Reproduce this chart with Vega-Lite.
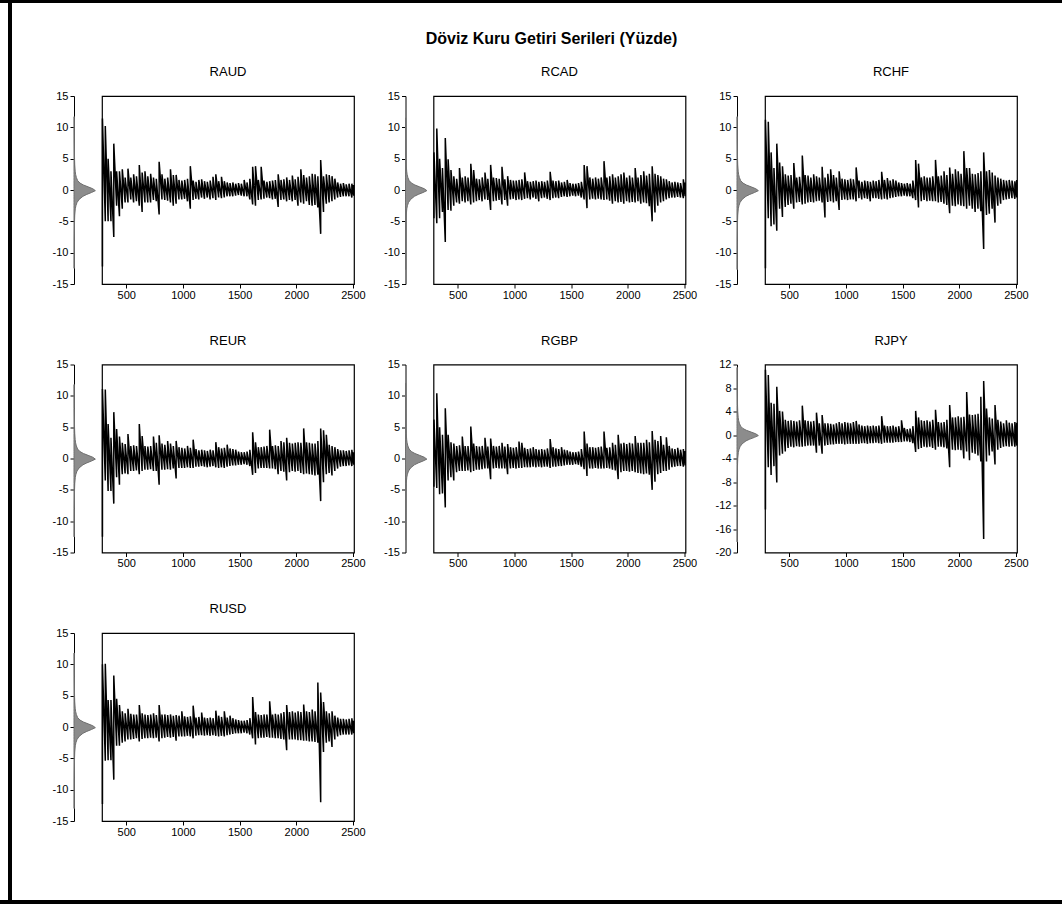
{
"$schema": "https://vega.github.io/schema/vega-lite/v6.json",
"padding": 0,
"background": "white",
"config": {
  "font": "Liberation Sans",
  "view": {"stroke": null},
  "axis": {"labelFont": "Liberation Sans", "labelFontSize": 11, "labelColor": "#000", "tickColor": "#000", "domainColor": "#000", "grid": false, "tickWidth": 1, "domainWidth": 1, "title": null},
  "title": {"font": "Liberation Sans", "color": "#000"},
  "line": {"color": "#000", "strokeWidth": 1.5, "strokeJoin": "bevel", "clip": true},
  "area": {"fill": "#8c8c8c", "stroke": "#6f6f6f", "strokeWidth": 1}
},
"datasets": {
"ts": [
{"s":"RAUD","t":290,"lo":-12.2,"hi":11.4},{"s":"RAUD","t":315,"lo":-5,"hi":10.2},{"s":"RAUD","t":340,"lo":-5,"hi":5},{"s":"RAUD","t":365,"lo":-5,"hi":3},{"s":"RAUD","t":390,"lo":-7.5,"hi":7.4},{"s":"RAUD","t":415,"lo":-2.5,"hi":3},{"s":"RAUD","t":440,"lo":-4.2,"hi":3},{"s":"RAUD","t":465,"lo":-3,"hi":3.3},{"s":"RAUD","t":490,"lo":-2,"hi":2},{"s":"RAUD","t":515,"lo":-2,"hi":3.4},{"s":"RAUD","t":540,"lo":-1.5,"hi":2},{"s":"RAUD","t":565,"lo":-2,"hi":2.5},{"s":"RAUD","t":590,"lo":-1.8,"hi":2.2},{"s":"RAUD","t":615,"lo":-2.5,"hi":4},{"s":"RAUD","t":640,"lo":-3.5,"hi":2.8},{"s":"RAUD","t":665,"lo":-2,"hi":3},{"s":"RAUD","t":690,"lo":-2,"hi":2.2},{"s":"RAUD","t":715,"lo":-2,"hi":2.6},{"s":"RAUD","t":740,"lo":-1.6,"hi":2},{"s":"RAUD","t":765,"lo":-1.8,"hi":1.8},{"s":"RAUD","t":790,"lo":-3.9,"hi":4.5},{"s":"RAUD","t":815,"lo":-1.5,"hi":2.5},{"s":"RAUD","t":840,"lo":-1.6,"hi":1.8},{"s":"RAUD","t":865,"lo":-1.7,"hi":2},{"s":"RAUD","t":890,"lo":-2,"hi":3.3},{"s":"RAUD","t":915,"lo":-2.5,"hi":2.4},{"s":"RAUD","t":940,"lo":-2.2,"hi":2.4},{"s":"RAUD","t":965,"lo":-1.5,"hi":1.6},{"s":"RAUD","t":990,"lo":-1.5,"hi":1.5},{"s":"RAUD","t":1015,"lo":-1.4,"hi":1.6},{"s":"RAUD","t":1040,"lo":-1.8,"hi":1.8},{"s":"RAUD","t":1065,"lo":-3,"hi":3.8},{"s":"RAUD","t":1090,"lo":-1.6,"hi":1.5},{"s":"RAUD","t":1115,"lo":-1.4,"hi":1.3},{"s":"RAUD","t":1140,"lo":-1.5,"hi":1.6},{"s":"RAUD","t":1165,"lo":-1.2,"hi":1.7},{"s":"RAUD","t":1190,"lo":-1.4,"hi":1.4},{"s":"RAUD","t":1215,"lo":-1.2,"hi":1.3},{"s":"RAUD","t":1240,"lo":-1.5,"hi":1.5},{"s":"RAUD","t":1265,"lo":-1.3,"hi":2.1},{"s":"RAUD","t":1290,"lo":-1.6,"hi":2.5},{"s":"RAUD","t":1315,"lo":-1.2,"hi":1.4},{"s":"RAUD","t":1340,"lo":-1.3,"hi":2.1},{"s":"RAUD","t":1365,"lo":-1.2,"hi":1.4},{"s":"RAUD","t":1390,"lo":-1,"hi":1.2},{"s":"RAUD","t":1415,"lo":-1,"hi":1.1},{"s":"RAUD","t":1440,"lo":-1,"hi":1.2},{"s":"RAUD","t":1465,"lo":-0.9,"hi":1},{"s":"RAUD","t":1490,"lo":-0.8,"hi":1.1},{"s":"RAUD","t":1515,"lo":-0.9,"hi":1},{"s":"RAUD","t":1540,"lo":-1,"hi":1.6},{"s":"RAUD","t":1565,"lo":-1,"hi":1.2},{"s":"RAUD","t":1590,"lo":-1.5,"hi":1.8},{"s":"RAUD","t":1615,"lo":-2.3,"hi":3.7},{"s":"RAUD","t":1640,"lo":-2.5,"hi":3.8},{"s":"RAUD","t":1665,"lo":-1.6,"hi":1.6},{"s":"RAUD","t":1690,"lo":-1.5,"hi":3.7},{"s":"RAUD","t":1715,"lo":-1.4,"hi":1.5},{"s":"RAUD","t":1740,"lo":-1.2,"hi":1.3},{"s":"RAUD","t":1765,"lo":-1.3,"hi":1.4},{"s":"RAUD","t":1790,"lo":-1.5,"hi":1.5},{"s":"RAUD","t":1815,"lo":-1.4,"hi":1.6},{"s":"RAUD","t":1840,"lo":-2.7,"hi":2.5},{"s":"RAUD","t":1865,"lo":-1.6,"hi":1.6},{"s":"RAUD","t":1890,"lo":-1.5,"hi":1.7},{"s":"RAUD","t":1915,"lo":-1.8,"hi":2},{"s":"RAUD","t":1940,"lo":-1.6,"hi":1.6},{"s":"RAUD","t":1965,"lo":-1.8,"hi":2.3},{"s":"RAUD","t":1990,"lo":-1.6,"hi":1.7},{"s":"RAUD","t":2015,"lo":-2.5,"hi":2.1},{"s":"RAUD","t":2040,"lo":-2,"hi":3.3},{"s":"RAUD","t":2065,"lo":-2.2,"hi":2.4},{"s":"RAUD","t":2090,"lo":-1.8,"hi":2},{"s":"RAUD","t":2115,"lo":-2.4,"hi":2.2},{"s":"RAUD","t":2140,"lo":-2.5,"hi":2.6},{"s":"RAUD","t":2165,"lo":-2.4,"hi":2.5},{"s":"RAUD","t":2190,"lo":-2.8,"hi":2.2},{"s":"RAUD","t":2215,"lo":-7,"hi":4.8},{"s":"RAUD","t":2240,"lo":-3.5,"hi":2.2},{"s":"RAUD","t":2265,"lo":-2.2,"hi":2.5},{"s":"RAUD","t":2290,"lo":-2,"hi":2.4},{"s":"RAUD","t":2315,"lo":-1.8,"hi":2.2},{"s":"RAUD","t":2340,"lo":-1.5,"hi":1.8},{"s":"RAUD","t":2365,"lo":-1.2,"hi":1.2},{"s":"RAUD","t":2390,"lo":-1.1,"hi":1},{"s":"RAUD","t":2415,"lo":-1,"hi":1.1},{"s":"RAUD","t":2440,"lo":-1,"hi":0.9},{"s":"RAUD","t":2465,"lo":-1,"hi":1},{"s":"RAUD","t":2490,"lo":-1.2,"hi":1},{"s":"RAUD","t":2506,"lo":-0.9,"hi":0.8},
{"s":"RCAD","t":290,"lo":-4.5,"hi":6},{"s":"RCAD","t":315,"lo":-5.3,"hi":9.8},{"s":"RCAD","t":340,"lo":-4.5,"hi":5},{"s":"RCAD","t":365,"lo":-3.5,"hi":3.5},{"s":"RCAD","t":390,"lo":-8.3,"hi":8.3},{"s":"RCAD","t":415,"lo":-3.2,"hi":4.9},{"s":"RCAD","t":440,"lo":-3.3,"hi":3.2},{"s":"RCAD","t":465,"lo":-2.5,"hi":2.2},{"s":"RCAD","t":490,"lo":-2,"hi":1.8},{"s":"RCAD","t":515,"lo":-2.2,"hi":3.5},{"s":"RCAD","t":540,"lo":-1.8,"hi":2},{"s":"RCAD","t":565,"lo":-2,"hi":2.2},{"s":"RCAD","t":590,"lo":-1.8,"hi":2},{"s":"RCAD","t":615,"lo":-2.3,"hi":4.2},{"s":"RCAD","t":640,"lo":-2,"hi":3.2},{"s":"RCAD","t":665,"lo":-1.8,"hi":1.8},{"s":"RCAD","t":690,"lo":-1.6,"hi":1.7},{"s":"RCAD","t":715,"lo":-1.8,"hi":2},{"s":"RCAD","t":740,"lo":-1.5,"hi":2.8},{"s":"RCAD","t":765,"lo":-1.6,"hi":1.8},{"s":"RCAD","t":790,"lo":-3.2,"hi":4},{"s":"RCAD","t":815,"lo":-1.8,"hi":2},{"s":"RCAD","t":840,"lo":-1.7,"hi":1.9},{"s":"RCAD","t":865,"lo":-1.6,"hi":1.8},{"s":"RCAD","t":890,"lo":-2.3,"hi":3.7},{"s":"RCAD","t":915,"lo":-1.6,"hi":1.7},{"s":"RCAD","t":940,"lo":-2.5,"hi":2.2},{"s":"RCAD","t":965,"lo":-1.5,"hi":1.6},{"s":"RCAD","t":990,"lo":-1.4,"hi":1.5},{"s":"RCAD","t":1015,"lo":-1.6,"hi":1.5},{"s":"RCAD","t":1040,"lo":-1.5,"hi":1.6},{"s":"RCAD","t":1065,"lo":-1.6,"hi":1.7},{"s":"RCAD","t":1090,"lo":-1.4,"hi":2.8},{"s":"RCAD","t":1115,"lo":-1.3,"hi":1.4},{"s":"RCAD","t":1140,"lo":-1.5,"hi":1.3},{"s":"RCAD","t":1165,"lo":-1.2,"hi":1.4},{"s":"RCAD","t":1190,"lo":-1.4,"hi":1.5},{"s":"RCAD","t":1215,"lo":-1.8,"hi":1.3},{"s":"RCAD","t":1240,"lo":-1.3,"hi":1.4},{"s":"RCAD","t":1265,"lo":-1.2,"hi":1.3},{"s":"RCAD","t":1290,"lo":-1.4,"hi":1.5},{"s":"RCAD","t":1315,"lo":-1.6,"hi":2.9},{"s":"RCAD","t":1340,"lo":-1.3,"hi":1.5},{"s":"RCAD","t":1365,"lo":-1.2,"hi":1.4},{"s":"RCAD","t":1390,"lo":-1.3,"hi":1.5},{"s":"RCAD","t":1415,"lo":-1.1,"hi":1.2},{"s":"RCAD","t":1440,"lo":-1,"hi":1.3},{"s":"RCAD","t":1465,"lo":-1.1,"hi":1.6},{"s":"RCAD","t":1490,"lo":-1,"hi":1.1},{"s":"RCAD","t":1515,"lo":-0.9,"hi":1},{"s":"RCAD","t":1540,"lo":-1,"hi":1},{"s":"RCAD","t":1565,"lo":-0.9,"hi":1.1},{"s":"RCAD","t":1590,"lo":-1.2,"hi":1.3},{"s":"RCAD","t":1615,"lo":-1.5,"hi":4},{"s":"RCAD","t":1640,"lo":-2.9,"hi":3.8},{"s":"RCAD","t":1665,"lo":-1.5,"hi":2},{"s":"RCAD","t":1690,"lo":-1.4,"hi":1.8},{"s":"RCAD","t":1715,"lo":-1.5,"hi":2},{"s":"RCAD","t":1740,"lo":-1.4,"hi":1.8},{"s":"RCAD","t":1765,"lo":-1.5,"hi":2},{"s":"RCAD","t":1790,"lo":-1.6,"hi":4.6},{"s":"RCAD","t":1815,"lo":-1.5,"hi":2},{"s":"RCAD","t":1840,"lo":-1.7,"hi":2.2},{"s":"RCAD","t":1865,"lo":-2.2,"hi":2.5},{"s":"RCAD","t":1890,"lo":-1.8,"hi":2},{"s":"RCAD","t":1915,"lo":-2,"hi":2.2},{"s":"RCAD","t":1940,"lo":-1.9,"hi":2.5},{"s":"RCAD","t":1965,"lo":-2.2,"hi":2.8},{"s":"RCAD","t":1990,"lo":-1.8,"hi":2},{"s":"RCAD","t":2015,"lo":-2,"hi":2.3},{"s":"RCAD","t":2040,"lo":-1.9,"hi":2},{"s":"RCAD","t":2065,"lo":-2,"hi":3.5},{"s":"RCAD","t":2090,"lo":-1.8,"hi":2},{"s":"RCAD","t":2115,"lo":-2.2,"hi":2.4},{"s":"RCAD","t":2140,"lo":-2,"hi":3},{"s":"RCAD","t":2165,"lo":-2.1,"hi":2.3},{"s":"RCAD","t":2190,"lo":-2.6,"hi":2.6},{"s":"RCAD","t":2215,"lo":-5,"hi":3.8},{"s":"RCAD","t":2240,"lo":-3.6,"hi":2.6},{"s":"RCAD","t":2265,"lo":-2.5,"hi":2.4},{"s":"RCAD","t":2290,"lo":-2,"hi":2.2},{"s":"RCAD","t":2315,"lo":-1.8,"hi":1.8},{"s":"RCAD","t":2340,"lo":-1.5,"hi":1.7},{"s":"RCAD","t":2365,"lo":-1.3,"hi":1.4},{"s":"RCAD","t":2390,"lo":-1.2,"hi":1.2},{"s":"RCAD","t":2415,"lo":-1.2,"hi":1.3},{"s":"RCAD","t":2440,"lo":-1.1,"hi":1.2},{"s":"RCAD","t":2465,"lo":-1.2,"hi":1.1},{"s":"RCAD","t":2490,"lo":-1.3,"hi":1.7},{"s":"RCAD","t":2506,"lo":-1,"hi":1.2},
{"s":"RCHF","t":290,"lo":-12.5,"hi":11.2},{"s":"RCHF","t":315,"lo":-4.5,"hi":10.9},{"s":"RCHF","t":340,"lo":-5.8,"hi":6},{"s":"RCHF","t":365,"lo":-5.5,"hi":3.5},{"s":"RCHF","t":390,"lo":-6.5,"hi":7.4},{"s":"RCHF","t":415,"lo":-3,"hi":4.4},{"s":"RCHF","t":440,"lo":-4.3,"hi":3.8},{"s":"RCHF","t":465,"lo":-2.7,"hi":2.5},{"s":"RCHF","t":490,"lo":-2.4,"hi":2.3},{"s":"RCHF","t":515,"lo":-2.2,"hi":2.4},{"s":"RCHF","t":540,"lo":-3,"hi":4.3},{"s":"RCHF","t":565,"lo":-2,"hi":2},{"s":"RCHF","t":590,"lo":-1.9,"hi":2.1},{"s":"RCHF","t":615,"lo":-2.3,"hi":5.5},{"s":"RCHF","t":640,"lo":-2.2,"hi":2.4},{"s":"RCHF","t":665,"lo":-2,"hi":2.3},{"s":"RCHF","t":690,"lo":-1.9,"hi":2},{"s":"RCHF","t":715,"lo":-2,"hi":2.5},{"s":"RCHF","t":740,"lo":-1.8,"hi":2.2},{"s":"RCHF","t":765,"lo":-1.7,"hi":2},{"s":"RCHF","t":790,"lo":-2,"hi":3.7},{"s":"RCHF","t":815,"lo":-4.4,"hi":2},{"s":"RCHF","t":840,"lo":-1.9,"hi":2.6},{"s":"RCHF","t":865,"lo":-1.8,"hi":3.3},{"s":"RCHF","t":890,"lo":-2,"hi":2.4},{"s":"RCHF","t":915,"lo":-1.8,"hi":2},{"s":"RCHF","t":940,"lo":-3.2,"hi":3},{"s":"RCHF","t":965,"lo":-1.6,"hi":1.8},{"s":"RCHF","t":990,"lo":-1.5,"hi":1.7},{"s":"RCHF","t":1015,"lo":-1.6,"hi":1.6},{"s":"RCHF","t":1040,"lo":-1.5,"hi":1.8},{"s":"RCHF","t":1065,"lo":-1.5,"hi":1.7},{"s":"RCHF","t":1090,"lo":-1.8,"hi":3.6},{"s":"RCHF","t":1115,"lo":-1.3,"hi":1.5},{"s":"RCHF","t":1140,"lo":-1.5,"hi":1.3},{"s":"RCHF","t":1165,"lo":-1.3,"hi":1.5},{"s":"RCHF","t":1190,"lo":-1.4,"hi":1.4},{"s":"RCHF","t":1215,"lo":-1.8,"hi":1.3},{"s":"RCHF","t":1240,"lo":-1.3,"hi":1.5},{"s":"RCHF","t":1265,"lo":-1.3,"hi":1.4},{"s":"RCHF","t":1290,"lo":-1.4,"hi":1.6},{"s":"RCHF","t":1315,"lo":-1.5,"hi":2.9},{"s":"RCHF","t":1340,"lo":-1.4,"hi":1.6},{"s":"RCHF","t":1365,"lo":-1.5,"hi":1.9},{"s":"RCHF","t":1390,"lo":-1.3,"hi":1.5},{"s":"RCHF","t":1415,"lo":-1.2,"hi":1.7},{"s":"RCHF","t":1440,"lo":-1.1,"hi":1.5},{"s":"RCHF","t":1465,"lo":-1,"hi":1.2},{"s":"RCHF","t":1490,"lo":-1,"hi":1.1},{"s":"RCHF","t":1515,"lo":-0.9,"hi":1},{"s":"RCHF","t":1540,"lo":-1,"hi":1.1},{"s":"RCHF","t":1565,"lo":-1,"hi":1},{"s":"RCHF","t":1590,"lo":-1.3,"hi":1.5},{"s":"RCHF","t":1615,"lo":-1.6,"hi":4.8},{"s":"RCHF","t":1640,"lo":-2.8,"hi":4.2},{"s":"RCHF","t":1665,"lo":-1.8,"hi":2},{"s":"RCHF","t":1690,"lo":-1.6,"hi":2.2},{"s":"RCHF","t":1715,"lo":-1.8,"hi":2},{"s":"RCHF","t":1740,"lo":-1.7,"hi":2},{"s":"RCHF","t":1765,"lo":-1.8,"hi":2.2},{"s":"RCHF","t":1790,"lo":-1.8,"hi":4.8},{"s":"RCHF","t":1815,"lo":-2,"hi":2.2},{"s":"RCHF","t":1840,"lo":-1.9,"hi":2.3},{"s":"RCHF","t":1865,"lo":-2.2,"hi":3},{"s":"RCHF","t":1890,"lo":-2.4,"hi":2.4},{"s":"RCHF","t":1915,"lo":-3.7,"hi":3.6},{"s":"RCHF","t":1940,"lo":-2.5,"hi":2.6},{"s":"RCHF","t":1965,"lo":-2.6,"hi":3.3},{"s":"RCHF","t":1990,"lo":-2.3,"hi":3},{"s":"RCHF","t":2015,"lo":-2.5,"hi":2.6},{"s":"RCHF","t":2040,"lo":-2.6,"hi":6.2},{"s":"RCHF","t":2065,"lo":-3,"hi":3.5},{"s":"RCHF","t":2090,"lo":-2.5,"hi":3.5},{"s":"RCHF","t":2115,"lo":-3,"hi":2.6},{"s":"RCHF","t":2140,"lo":-3.5,"hi":2.5},{"s":"RCHF","t":2165,"lo":-3,"hi":2.7},{"s":"RCHF","t":2190,"lo":-3.4,"hi":3},{"s":"RCHF","t":2215,"lo":-9.4,"hi":6},{"s":"RCHF","t":2240,"lo":-4,"hi":3},{"s":"RCHF","t":2265,"lo":-3.8,"hi":3.2},{"s":"RCHF","t":2290,"lo":-3,"hi":2.8},{"s":"RCHF","t":2315,"lo":-5.2,"hi":2.3},{"s":"RCHF","t":2340,"lo":-2.5,"hi":2},{"s":"RCHF","t":2365,"lo":-2.2,"hi":1.8},{"s":"RCHF","t":2390,"lo":-1.6,"hi":1.6},{"s":"RCHF","t":2415,"lo":-1.5,"hi":1.5},{"s":"RCHF","t":2440,"lo":-1.4,"hi":1.6},{"s":"RCHF","t":2465,"lo":-1.3,"hi":1.5},{"s":"RCHF","t":2490,"lo":-1.4,"hi":1.4},{"s":"RCHF","t":2506,"lo":-1.2,"hi":1.6},
{"s":"REUR","t":290,"lo":-12.5,"hi":11.1},{"s":"REUR","t":315,"lo":-3.5,"hi":11},{"s":"REUR","t":340,"lo":-5.2,"hi":5.5},{"s":"REUR","t":365,"lo":-5.2,"hi":3.3},{"s":"REUR","t":390,"lo":-7.2,"hi":7.4},{"s":"REUR","t":415,"lo":-3,"hi":4.7},{"s":"REUR","t":440,"lo":-4.2,"hi":3.5},{"s":"REUR","t":465,"lo":-2.5,"hi":2.5},{"s":"REUR","t":490,"lo":-2.4,"hi":2.3},{"s":"REUR","t":515,"lo":-2.5,"hi":3.9},{"s":"REUR","t":540,"lo":-2,"hi":2},{"s":"REUR","t":565,"lo":-2,"hi":2.1},{"s":"REUR","t":590,"lo":-1.9,"hi":2},{"s":"REUR","t":615,"lo":-2.5,"hi":5.5},{"s":"REUR","t":640,"lo":-2,"hi":3.6},{"s":"REUR","t":665,"lo":-1.8,"hi":2},{"s":"REUR","t":690,"lo":-1.8,"hi":1.9},{"s":"REUR","t":715,"lo":-1.7,"hi":2},{"s":"REUR","t":740,"lo":-2,"hi":3.5},{"s":"REUR","t":765,"lo":-2,"hi":2.5},{"s":"REUR","t":790,"lo":-4.2,"hi":3.7},{"s":"REUR","t":815,"lo":-1.8,"hi":2.4},{"s":"REUR","t":840,"lo":-1.8,"hi":2.2},{"s":"REUR","t":865,"lo":-1.7,"hi":2.8},{"s":"REUR","t":890,"lo":-1.8,"hi":2.4},{"s":"REUR","t":915,"lo":-1.6,"hi":2},{"s":"REUR","t":940,"lo":-3.2,"hi":2.8},{"s":"REUR","t":965,"lo":-1.5,"hi":1.8},{"s":"REUR","t":990,"lo":-1.5,"hi":1.7},{"s":"REUR","t":1015,"lo":-1.5,"hi":1.6},{"s":"REUR","t":1040,"lo":-1.4,"hi":2},{"s":"REUR","t":1065,"lo":-1.5,"hi":1.7},{"s":"REUR","t":1090,"lo":-1.5,"hi":3},{"s":"REUR","t":1115,"lo":-1.3,"hi":1.5},{"s":"REUR","t":1140,"lo":-1.3,"hi":1.3},{"s":"REUR","t":1165,"lo":-1.2,"hi":1.4},{"s":"REUR","t":1190,"lo":-1.3,"hi":1.3},{"s":"REUR","t":1215,"lo":-1.4,"hi":1.2},{"s":"REUR","t":1240,"lo":-1.3,"hi":1.4},{"s":"REUR","t":1265,"lo":-1.2,"hi":1.3},{"s":"REUR","t":1290,"lo":-1.4,"hi":2.6},{"s":"REUR","t":1315,"lo":-1.5,"hi":1.8},{"s":"REUR","t":1340,"lo":-1.4,"hi":1.6},{"s":"REUR","t":1365,"lo":-1.5,"hi":1.7},{"s":"REUR","t":1390,"lo":-1.3,"hi":2.2},{"s":"REUR","t":1415,"lo":-1.2,"hi":1.6},{"s":"REUR","t":1440,"lo":-1.1,"hi":1.5},{"s":"REUR","t":1465,"lo":-1.1,"hi":1.4},{"s":"REUR","t":1490,"lo":-1,"hi":1.1},{"s":"REUR","t":1515,"lo":-1,"hi":1},{"s":"REUR","t":1540,"lo":-0.9,"hi":1},{"s":"REUR","t":1565,"lo":-1,"hi":1.1},{"s":"REUR","t":1590,"lo":-1.2,"hi":1.4},{"s":"REUR","t":1615,"lo":-2.6,"hi":4.2},{"s":"REUR","t":1640,"lo":-2.3,"hi":2.6},{"s":"REUR","t":1665,"lo":-1.6,"hi":1.8},{"s":"REUR","t":1690,"lo":-1.5,"hi":1.8},{"s":"REUR","t":1715,"lo":-1.5,"hi":1.9},{"s":"REUR","t":1740,"lo":-1.5,"hi":2},{"s":"REUR","t":1765,"lo":-1.6,"hi":4.6},{"s":"REUR","t":1790,"lo":-1.6,"hi":2},{"s":"REUR","t":1815,"lo":-1.7,"hi":2.1},{"s":"REUR","t":1840,"lo":-2.5,"hi":2},{"s":"REUR","t":1865,"lo":-2,"hi":2.8},{"s":"REUR","t":1890,"lo":-2.1,"hi":2.6},{"s":"REUR","t":1915,"lo":-3.5,"hi":3.3},{"s":"REUR","t":1940,"lo":-2.2,"hi":2.5},{"s":"REUR","t":1965,"lo":-2,"hi":2.4},{"s":"REUR","t":1990,"lo":-2.1,"hi":2.5},{"s":"REUR","t":2015,"lo":-2,"hi":2.6},{"s":"REUR","t":2040,"lo":-2.3,"hi":2.5},{"s":"REUR","t":2065,"lo":-2.5,"hi":4.8},{"s":"REUR","t":2090,"lo":-2.4,"hi":2.6},{"s":"REUR","t":2115,"lo":-2.5,"hi":2.5},{"s":"REUR","t":2140,"lo":-2.6,"hi":2.4},{"s":"REUR","t":2165,"lo":-2.7,"hi":2.4},{"s":"REUR","t":2190,"lo":-2.6,"hi":2.8},{"s":"REUR","t":2215,"lo":-6.8,"hi":4.8},{"s":"REUR","t":2240,"lo":-3.8,"hi":4.5},{"s":"REUR","t":2265,"lo":-2.5,"hi":3.8},{"s":"REUR","t":2290,"lo":-2.3,"hi":2.2},{"s":"REUR","t":2315,"lo":-2.7,"hi":2},{"s":"REUR","t":2340,"lo":-2,"hi":1.8},{"s":"REUR","t":2365,"lo":-1.6,"hi":1.5},{"s":"REUR","t":2390,"lo":-1.3,"hi":1.3},{"s":"REUR","t":2415,"lo":-1.2,"hi":1.3},{"s":"REUR","t":2440,"lo":-1.2,"hi":1.2},{"s":"REUR","t":2465,"lo":-1.1,"hi":1.3},{"s":"REUR","t":2490,"lo":-1.2,"hi":1.4},{"s":"REUR","t":2506,"lo":-1,"hi":1},
{"s":"RGBP","t":290,"lo":-4.5,"hi":6.2},{"s":"RGBP","t":315,"lo":-4.7,"hi":10.4},{"s":"RGBP","t":340,"lo":-5.7,"hi":5},{"s":"RGBP","t":365,"lo":-5.6,"hi":3.8},{"s":"RGBP","t":390,"lo":-7.8,"hi":8},{"s":"RGBP","t":415,"lo":-3.5,"hi":3.8},{"s":"RGBP","t":440,"lo":-3,"hi":2.6},{"s":"RGBP","t":465,"lo":-3.5,"hi":2.4},{"s":"RGBP","t":490,"lo":-2.2,"hi":2},{"s":"RGBP","t":515,"lo":-2,"hi":2.1},{"s":"RGBP","t":540,"lo":-2,"hi":3.5},{"s":"RGBP","t":565,"lo":-2,"hi":2},{"s":"RGBP","t":590,"lo":-1.9,"hi":2},{"s":"RGBP","t":615,"lo":-2.2,"hi":5.1},{"s":"RGBP","t":640,"lo":-2,"hi":2.4},{"s":"RGBP","t":665,"lo":-1.8,"hi":2},{"s":"RGBP","t":690,"lo":-1.8,"hi":1.9},{"s":"RGBP","t":715,"lo":-1.7,"hi":2},{"s":"RGBP","t":740,"lo":-1.6,"hi":3.3},{"s":"RGBP","t":765,"lo":-1.6,"hi":1.9},{"s":"RGBP","t":790,"lo":-3.3,"hi":3.2},{"s":"RGBP","t":815,"lo":-1.6,"hi":2},{"s":"RGBP","t":840,"lo":-1.5,"hi":1.9},{"s":"RGBP","t":865,"lo":-1.6,"hi":2},{"s":"RGBP","t":890,"lo":-1.6,"hi":2.5},{"s":"RGBP","t":915,"lo":-1.6,"hi":1.9},{"s":"RGBP","t":940,"lo":-2.5,"hi":2.3},{"s":"RGBP","t":965,"lo":-1.6,"hi":1.8},{"s":"RGBP","t":990,"lo":-1.5,"hi":1.7},{"s":"RGBP","t":1015,"lo":-1.6,"hi":1.8},{"s":"RGBP","t":1040,"lo":-1.5,"hi":2.7},{"s":"RGBP","t":1065,"lo":-1.5,"hi":2.5},{"s":"RGBP","t":1090,"lo":-1.4,"hi":1.7},{"s":"RGBP","t":1115,"lo":-1.4,"hi":1.5},{"s":"RGBP","t":1140,"lo":-1.4,"hi":1.6},{"s":"RGBP","t":1165,"lo":-1.3,"hi":1.8},{"s":"RGBP","t":1190,"lo":-1.4,"hi":1.5},{"s":"RGBP","t":1215,"lo":-1.3,"hi":1.4},{"s":"RGBP","t":1240,"lo":-1.4,"hi":1.5},{"s":"RGBP","t":1265,"lo":-1.3,"hi":1.4},{"s":"RGBP","t":1290,"lo":-1.3,"hi":1.6},{"s":"RGBP","t":1315,"lo":-1.5,"hi":3.1},{"s":"RGBP","t":1340,"lo":-1.3,"hi":1.8},{"s":"RGBP","t":1365,"lo":-1.3,"hi":1.6},{"s":"RGBP","t":1390,"lo":-1.2,"hi":1.5},{"s":"RGBP","t":1415,"lo":-1.2,"hi":1.8},{"s":"RGBP","t":1440,"lo":-1.1,"hi":1.4},{"s":"RGBP","t":1465,"lo":-1,"hi":1.3},{"s":"RGBP","t":1490,"lo":-1,"hi":1.1},{"s":"RGBP","t":1515,"lo":-1,"hi":1},{"s":"RGBP","t":1540,"lo":-0.9,"hi":1},{"s":"RGBP","t":1565,"lo":-1,"hi":1.1},{"s":"RGBP","t":1590,"lo":-1.3,"hi":1.5},{"s":"RGBP","t":1615,"lo":-1.7,"hi":4.3},{"s":"RGBP","t":1640,"lo":-2.8,"hi":2.4},{"s":"RGBP","t":1665,"lo":-1.6,"hi":1.8},{"s":"RGBP","t":1690,"lo":-1.6,"hi":1.8},{"s":"RGBP","t":1715,"lo":-1.5,"hi":1.7},{"s":"RGBP","t":1740,"lo":-1.6,"hi":1.8},{"s":"RGBP","t":1765,"lo":-1.6,"hi":1.9},{"s":"RGBP","t":1790,"lo":-1.6,"hi":4.3},{"s":"RGBP","t":1815,"lo":-1.5,"hi":1.7},{"s":"RGBP","t":1840,"lo":-1.6,"hi":1.8},{"s":"RGBP","t":1865,"lo":-1.8,"hi":2.5},{"s":"RGBP","t":1890,"lo":-1.9,"hi":2.2},{"s":"RGBP","t":1915,"lo":-3.3,"hi":3.8},{"s":"RGBP","t":1940,"lo":-2.2,"hi":2.4},{"s":"RGBP","t":1965,"lo":-2,"hi":2.5},{"s":"RGBP","t":1990,"lo":-2,"hi":2.3},{"s":"RGBP","t":2015,"lo":-2.1,"hi":2.5},{"s":"RGBP","t":2040,"lo":-2,"hi":2.4},{"s":"RGBP","t":2065,"lo":-2.2,"hi":3.6},{"s":"RGBP","t":2090,"lo":-2.3,"hi":2.5},{"s":"RGBP","t":2115,"lo":-2.4,"hi":2.5},{"s":"RGBP","t":2140,"lo":-2.5,"hi":2.5},{"s":"RGBP","t":2165,"lo":-2.4,"hi":3},{"s":"RGBP","t":2190,"lo":-2.6,"hi":2.6},{"s":"RGBP","t":2215,"lo":-5,"hi":4.4},{"s":"RGBP","t":2240,"lo":-3.7,"hi":3},{"s":"RGBP","t":2265,"lo":-2.5,"hi":2.8},{"s":"RGBP","t":2290,"lo":-2.3,"hi":3.6},{"s":"RGBP","t":2315,"lo":-2,"hi":2.2},{"s":"RGBP","t":2340,"lo":-2,"hi":3.4},{"s":"RGBP","t":2365,"lo":-1.8,"hi":2},{"s":"RGBP","t":2390,"lo":-1.4,"hi":1.6},{"s":"RGBP","t":2415,"lo":-1.3,"hi":1.5},{"s":"RGBP","t":2440,"lo":-1.2,"hi":1.7},{"s":"RGBP","t":2465,"lo":-1.2,"hi":1.4},{"s":"RGBP","t":2490,"lo":-1.3,"hi":1.5},{"s":"RGBP","t":2506,"lo":-1.1,"hi":1.2},
{"s":"RJPY","t":290,"lo":-12.7,"hi":11.1},{"s":"RJPY","t":315,"lo":-5.5,"hi":10.2},{"s":"RJPY","t":340,"lo":-6.8,"hi":5.5},{"s":"RJPY","t":365,"lo":-5.3,"hi":5.3},{"s":"RJPY","t":390,"lo":-8.1,"hi":8.2},{"s":"RJPY","t":415,"lo":-3.5,"hi":4.1},{"s":"RJPY","t":440,"lo":-3.2,"hi":4},{"s":"RJPY","t":465,"lo":-2.8,"hi":2.6},{"s":"RJPY","t":490,"lo":-2.2,"hi":2.4},{"s":"RJPY","t":515,"lo":-2,"hi":2.5},{"s":"RJPY","t":540,"lo":-2.1,"hi":2.4},{"s":"RJPY","t":565,"lo":-1.9,"hi":2.3},{"s":"RJPY","t":590,"lo":-2,"hi":2.5},{"s":"RJPY","t":615,"lo":-2,"hi":5},{"s":"RJPY","t":640,"lo":-1.9,"hi":2.5},{"s":"RJPY","t":665,"lo":-1.8,"hi":2.4},{"s":"RJPY","t":690,"lo":-1.8,"hi":2.3},{"s":"RJPY","t":715,"lo":-1.8,"hi":2.4},{"s":"RJPY","t":740,"lo":-3,"hi":3.8},{"s":"RJPY","t":765,"lo":-1.8,"hi":2},{"s":"RJPY","t":790,"lo":-3.2,"hi":3.4},{"s":"RJPY","t":815,"lo":-1.8,"hi":2},{"s":"RJPY","t":840,"lo":-1.7,"hi":2},{"s":"RJPY","t":865,"lo":-1.6,"hi":1.9},{"s":"RJPY","t":890,"lo":-1.6,"hi":1.8},{"s":"RJPY","t":915,"lo":-1.5,"hi":2},{"s":"RJPY","t":940,"lo":-1.5,"hi":2.2},{"s":"RJPY","t":965,"lo":-1.5,"hi":2},{"s":"RJPY","t":990,"lo":-1.6,"hi":2.2},{"s":"RJPY","t":1015,"lo":-1.5,"hi":2.1},{"s":"RJPY","t":1040,"lo":-1.5,"hi":2},{"s":"RJPY","t":1065,"lo":-1.5,"hi":2.2},{"s":"RJPY","t":1090,"lo":-1.5,"hi":2.4},{"s":"RJPY","t":1115,"lo":-1.5,"hi":1.8},{"s":"RJPY","t":1140,"lo":-1.4,"hi":1.6},{"s":"RJPY","t":1165,"lo":-1.4,"hi":1.5},{"s":"RJPY","t":1190,"lo":-1.5,"hi":1.6},{"s":"RJPY","t":1215,"lo":-1.4,"hi":1.5},{"s":"RJPY","t":1240,"lo":-1.4,"hi":1.6},{"s":"RJPY","t":1265,"lo":-1.3,"hi":1.5},{"s":"RJPY","t":1290,"lo":-1.4,"hi":1.6},{"s":"RJPY","t":1315,"lo":-1.5,"hi":3.2},{"s":"RJPY","t":1340,"lo":-1.3,"hi":1.6},{"s":"RJPY","t":1365,"lo":-1.3,"hi":1.5},{"s":"RJPY","t":1390,"lo":-1.3,"hi":1.5},{"s":"RJPY","t":1415,"lo":-1.3,"hi":1.6},{"s":"RJPY","t":1440,"lo":-1.2,"hi":1.4},{"s":"RJPY","t":1465,"lo":-1.2,"hi":1.5},{"s":"RJPY","t":1490,"lo":-1.2,"hi":2.5},{"s":"RJPY","t":1515,"lo":-1.1,"hi":1.2},{"s":"RJPY","t":1540,"lo":-1.1,"hi":1},{"s":"RJPY","t":1565,"lo":-1.2,"hi":1.1},{"s":"RJPY","t":1590,"lo":-1.4,"hi":1.5},{"s":"RJPY","t":1615,"lo":-2.9,"hi":4.1},{"s":"RJPY","t":1640,"lo":-2.4,"hi":3},{"s":"RJPY","t":1665,"lo":-2.2,"hi":2.5},{"s":"RJPY","t":1690,"lo":-2,"hi":2.4},{"s":"RJPY","t":1715,"lo":-2.1,"hi":2.5},{"s":"RJPY","t":1740,"lo":-2,"hi":2.3},{"s":"RJPY","t":1765,"lo":-2.2,"hi":2.6},{"s":"RJPY","t":1790,"lo":-2.5,"hi":4.3},{"s":"RJPY","t":1815,"lo":-2,"hi":2.2},{"s":"RJPY","t":1840,"lo":-2,"hi":2.1},{"s":"RJPY","t":1865,"lo":-2.1,"hi":2.2},{"s":"RJPY","t":1890,"lo":-2.3,"hi":2.6},{"s":"RJPY","t":1915,"lo":-5.5,"hi":5.1},{"s":"RJPY","t":1940,"lo":-2.5,"hi":3},{"s":"RJPY","t":1965,"lo":-2.6,"hi":3},{"s":"RJPY","t":1990,"lo":-2.5,"hi":3.2},{"s":"RJPY","t":2015,"lo":-2.6,"hi":3},{"s":"RJPY","t":2040,"lo":-4,"hi":3.1},{"s":"RJPY","t":2065,"lo":-2.8,"hi":7.3},{"s":"RJPY","t":2090,"lo":-4.3,"hi":3.5},{"s":"RJPY","t":2115,"lo":-3,"hi":3.4},{"s":"RJPY","t":2140,"lo":-3.2,"hi":3.5},{"s":"RJPY","t":2165,"lo":-3.5,"hi":3.6},{"s":"RJPY","t":2190,"lo":-4.5,"hi":6.5},{"s":"RJPY","t":2215,"lo":-17.7,"hi":9.2},{"s":"RJPY","t":2240,"lo":-4.5,"hi":4.5},{"s":"RJPY","t":2265,"lo":-3.5,"hi":3},{"s":"RJPY","t":2290,"lo":-2.8,"hi":2.8},{"s":"RJPY","t":2315,"lo":-5,"hi":5.1},{"s":"RJPY","t":2340,"lo":-2.5,"hi":2.6},{"s":"RJPY","t":2365,"lo":-2.2,"hi":2.3},{"s":"RJPY","t":2390,"lo":-2,"hi":2},{"s":"RJPY","t":2415,"lo":-1.9,"hi":2.5},{"s":"RJPY","t":2440,"lo":-2,"hi":2.1},{"s":"RJPY","t":2465,"lo":-1.9,"hi":2},{"s":"RJPY","t":2490,"lo":-2,"hi":2.2},{"s":"RJPY","t":2506,"lo":-1.8,"hi":2.1},
{"s":"RUSD","t":290,"lo":-12.3,"hi":10},{"s":"RUSD","t":315,"lo":-5.4,"hi":10.1},{"s":"RUSD","t":340,"lo":-5.3,"hi":4.3},{"s":"RUSD","t":365,"lo":-5.3,"hi":4.3},{"s":"RUSD","t":390,"lo":-8.4,"hi":8.2},{"s":"RUSD","t":415,"lo":-3,"hi":4.5},{"s":"RUSD","t":440,"lo":-3,"hi":3.5},{"s":"RUSD","t":465,"lo":-2.5,"hi":2.5},{"s":"RUSD","t":490,"lo":-2.3,"hi":2.2},{"s":"RUSD","t":515,"lo":-2,"hi":2.9},{"s":"RUSD","t":540,"lo":-2,"hi":2.1},{"s":"RUSD","t":565,"lo":-1.9,"hi":2},{"s":"RUSD","t":590,"lo":-1.8,"hi":2},{"s":"RUSD","t":615,"lo":-2.3,"hi":3.5},{"s":"RUSD","t":640,"lo":-1.9,"hi":2.2},{"s":"RUSD","t":665,"lo":-1.8,"hi":2},{"s":"RUSD","t":690,"lo":-1.8,"hi":1.9},{"s":"RUSD","t":715,"lo":-1.7,"hi":2},{"s":"RUSD","t":740,"lo":-1.8,"hi":2.2},{"s":"RUSD","t":765,"lo":-1.7,"hi":1.9},{"s":"RUSD","t":790,"lo":-2.3,"hi":3.5},{"s":"RUSD","t":815,"lo":-1.8,"hi":2},{"s":"RUSD","t":840,"lo":-1.7,"hi":2},{"s":"RUSD","t":865,"lo":-1.6,"hi":1.9},{"s":"RUSD","t":890,"lo":-1.7,"hi":2},{"s":"RUSD","t":915,"lo":-1.6,"hi":1.8},{"s":"RUSD","t":940,"lo":-2.2,"hi":1.9},{"s":"RUSD","t":965,"lo":-1.5,"hi":1.8},{"s":"RUSD","t":990,"lo":-1.5,"hi":2.5},{"s":"RUSD","t":1015,"lo":-1.5,"hi":1.7},{"s":"RUSD","t":1040,"lo":-1.4,"hi":1.6},{"s":"RUSD","t":1065,"lo":-1.5,"hi":1.7},{"s":"RUSD","t":1090,"lo":-1.8,"hi":3.4},{"s":"RUSD","t":1115,"lo":-1.4,"hi":1.5},{"s":"RUSD","t":1140,"lo":-1.3,"hi":1.6},{"s":"RUSD","t":1165,"lo":-1.3,"hi":2.3},{"s":"RUSD","t":1190,"lo":-1.4,"hi":1.5},{"s":"RUSD","t":1215,"lo":-1.3,"hi":1.4},{"s":"RUSD","t":1240,"lo":-1.4,"hi":1.5},{"s":"RUSD","t":1265,"lo":-1.3,"hi":1.4},{"s":"RUSD","t":1290,"lo":-1.4,"hi":2.6},{"s":"RUSD","t":1315,"lo":-1.5,"hi":1.8},{"s":"RUSD","t":1340,"lo":-1.4,"hi":1.6},{"s":"RUSD","t":1365,"lo":-1.5,"hi":2.5},{"s":"RUSD","t":1390,"lo":-1.3,"hi":1.5},{"s":"RUSD","t":1415,"lo":-1.2,"hi":1.8},{"s":"RUSD","t":1440,"lo":-1.1,"hi":1.4},{"s":"RUSD","t":1465,"lo":-1,"hi":1.2},{"s":"RUSD","t":1490,"lo":-1,"hi":1.1},{"s":"RUSD","t":1515,"lo":-1,"hi":1},{"s":"RUSD","t":1540,"lo":-0.9,"hi":1},{"s":"RUSD","t":1565,"lo":-1,"hi":1.1},{"s":"RUSD","t":1590,"lo":-1.2,"hi":1.4},{"s":"RUSD","t":1615,"lo":-1.8,"hi":4.8},{"s":"RUSD","t":1640,"lo":-2.8,"hi":2.4},{"s":"RUSD","t":1665,"lo":-1.8,"hi":2},{"s":"RUSD","t":1690,"lo":-1.7,"hi":1.9},{"s":"RUSD","t":1715,"lo":-1.7,"hi":2},{"s":"RUSD","t":1740,"lo":-1.6,"hi":2},{"s":"RUSD","t":1765,"lo":-1.7,"hi":4.1},{"s":"RUSD","t":1790,"lo":-1.7,"hi":2},{"s":"RUSD","t":1815,"lo":-1.8,"hi":2.1},{"s":"RUSD","t":1840,"lo":-1.8,"hi":2},{"s":"RUSD","t":1865,"lo":-1.9,"hi":2.2},{"s":"RUSD","t":1890,"lo":-2,"hi":2.4},{"s":"RUSD","t":1915,"lo":-3.7,"hi":3.5},{"s":"RUSD","t":1940,"lo":-2,"hi":2.4},{"s":"RUSD","t":1965,"lo":-2,"hi":2.5},{"s":"RUSD","t":1990,"lo":-2,"hi":2.3},{"s":"RUSD","t":2015,"lo":-2.1,"hi":2.5},{"s":"RUSD","t":2040,"lo":-2.1,"hi":2.4},{"s":"RUSD","t":2065,"lo":-2.2,"hi":3.6},{"s":"RUSD","t":2090,"lo":-2.2,"hi":2.5},{"s":"RUSD","t":2115,"lo":-2.3,"hi":2.4},{"s":"RUSD","t":2140,"lo":-2.3,"hi":2.8},{"s":"RUSD","t":2165,"lo":-2.4,"hi":2.5},{"s":"RUSD","t":2190,"lo":-2.5,"hi":7.1},{"s":"RUSD","t":2215,"lo":-12,"hi":5.5},{"s":"RUSD","t":2240,"lo":-4,"hi":4},{"s":"RUSD","t":2265,"lo":-2.5,"hi":2.5},{"s":"RUSD","t":2290,"lo":-2.3,"hi":2.2},{"s":"RUSD","t":2315,"lo":-3.2,"hi":2.5},{"s":"RUSD","t":2340,"lo":-2,"hi":1.8},{"s":"RUSD","t":2365,"lo":-1.5,"hi":1.5},{"s":"RUSD","t":2390,"lo":-1.3,"hi":1.3},{"s":"RUSD","t":2415,"lo":-1.2,"hi":1.3},{"s":"RUSD","t":2440,"lo":-1.2,"hi":1.2},{"s":"RUSD","t":2465,"lo":-1.2,"hi":1.3},{"s":"RUSD","t":2490,"lo":-1.2,"hi":1.4},{"s":"RUSD","t":2506,"lo":-1,"hi":1}
],
"dens": [
{"s":"RAUD","v":-12.5,"d":0.01},{"s":"RAUD","v":-8,"d":0.015},{"s":"RAUD","v":-5,"d":0.025},{"s":"RAUD","v":-4,"d":0.035},{"s":"RAUD","v":-3,"d":0.06},{"s":"RAUD","v":-2.5,"d":0.09},{"s":"RAUD","v":-2,"d":0.14},{"s":"RAUD","v":-1.5,"d":0.24},{"s":"RAUD","v":-1,"d":0.42},{"s":"RAUD","v":-0.7,"d":0.6},{"s":"RAUD","v":-0.4,"d":0.82},{"s":"RAUD","v":-0.1,"d":1},{"s":"RAUD","v":0.2,"d":0.88},{"s":"RAUD","v":0.5,"d":0.66},{"s":"RAUD","v":0.8,"d":0.44},{"s":"RAUD","v":1.1,"d":0.28},{"s":"RAUD","v":1.5,"d":0.17},{"s":"RAUD","v":2,"d":0.11},{"s":"RAUD","v":2.5,"d":0.075},{"s":"RAUD","v":3,"d":0.055},{"s":"RAUD","v":4,"d":0.035},{"s":"RAUD","v":5,"d":0.025},{"s":"RAUD","v":8,"d":0.015},{"s":"RAUD","v":11.7,"d":0.01},
{"s":"RCAD","v":-12.7,"d":0.01},{"s":"RCAD","v":-8,"d":0.015},{"s":"RCAD","v":-5,"d":0.025},{"s":"RCAD","v":-4,"d":0.035},{"s":"RCAD","v":-3,"d":0.06},{"s":"RCAD","v":-2.5,"d":0.09},{"s":"RCAD","v":-2,"d":0.14},{"s":"RCAD","v":-1.5,"d":0.24},{"s":"RCAD","v":-1,"d":0.42},{"s":"RCAD","v":-0.7,"d":0.6},{"s":"RCAD","v":-0.4,"d":0.82},{"s":"RCAD","v":-0.1,"d":1},{"s":"RCAD","v":0.2,"d":0.88},{"s":"RCAD","v":0.5,"d":0.66},{"s":"RCAD","v":0.8,"d":0.44},{"s":"RCAD","v":1.1,"d":0.28},{"s":"RCAD","v":1.5,"d":0.17},{"s":"RCAD","v":2,"d":0.11},{"s":"RCAD","v":2.5,"d":0.075},{"s":"RCAD","v":3,"d":0.055},{"s":"RCAD","v":4,"d":0.035},{"s":"RCAD","v":5,"d":0.025},{"s":"RCAD","v":8,"d":0.015},{"s":"RCAD","v":11.5,"d":0.01},
{"s":"RCHF","v":-12.7,"d":0.01},{"s":"RCHF","v":-8,"d":0.015},{"s":"RCHF","v":-5,"d":0.025},{"s":"RCHF","v":-4,"d":0.035},{"s":"RCHF","v":-3,"d":0.06},{"s":"RCHF","v":-2.5,"d":0.09},{"s":"RCHF","v":-2,"d":0.14},{"s":"RCHF","v":-1.5,"d":0.24},{"s":"RCHF","v":-1,"d":0.42},{"s":"RCHF","v":-0.7,"d":0.6},{"s":"RCHF","v":-0.4,"d":0.82},{"s":"RCHF","v":-0.1,"d":1},{"s":"RCHF","v":0.2,"d":0.88},{"s":"RCHF","v":0.5,"d":0.66},{"s":"RCHF","v":0.8,"d":0.44},{"s":"RCHF","v":1.1,"d":0.28},{"s":"RCHF","v":1.5,"d":0.17},{"s":"RCHF","v":2,"d":0.11},{"s":"RCHF","v":2.5,"d":0.075},{"s":"RCHF","v":3,"d":0.055},{"s":"RCHF","v":4,"d":0.035},{"s":"RCHF","v":5,"d":0.025},{"s":"RCHF","v":8,"d":0.015},{"s":"RCHF","v":11.7,"d":0.01},
{"s":"REUR","v":-12.5,"d":0.01},{"s":"REUR","v":-8,"d":0.015},{"s":"REUR","v":-5,"d":0.025},{"s":"REUR","v":-4,"d":0.035},{"s":"REUR","v":-3,"d":0.06},{"s":"REUR","v":-2.5,"d":0.09},{"s":"REUR","v":-2,"d":0.14},{"s":"REUR","v":-1.5,"d":0.24},{"s":"REUR","v":-1,"d":0.42},{"s":"REUR","v":-0.7,"d":0.6},{"s":"REUR","v":-0.4,"d":0.82},{"s":"REUR","v":-0.1,"d":1},{"s":"REUR","v":0.2,"d":0.88},{"s":"REUR","v":0.5,"d":0.66},{"s":"REUR","v":0.8,"d":0.44},{"s":"REUR","v":1.1,"d":0.28},{"s":"REUR","v":1.5,"d":0.17},{"s":"REUR","v":2,"d":0.11},{"s":"REUR","v":2.5,"d":0.075},{"s":"REUR","v":3,"d":0.055},{"s":"REUR","v":4,"d":0.035},{"s":"REUR","v":5,"d":0.025},{"s":"REUR","v":8,"d":0.015},{"s":"REUR","v":11.8,"d":0.01},
{"s":"RGBP","v":-13,"d":0.01},{"s":"RGBP","v":-8,"d":0.015},{"s":"RGBP","v":-5,"d":0.025},{"s":"RGBP","v":-4,"d":0.035},{"s":"RGBP","v":-3,"d":0.06},{"s":"RGBP","v":-2.5,"d":0.09},{"s":"RGBP","v":-2,"d":0.14},{"s":"RGBP","v":-1.5,"d":0.24},{"s":"RGBP","v":-1,"d":0.42},{"s":"RGBP","v":-0.7,"d":0.6},{"s":"RGBP","v":-0.4,"d":0.82},{"s":"RGBP","v":-0.1,"d":1},{"s":"RGBP","v":0.2,"d":0.88},{"s":"RGBP","v":0.5,"d":0.66},{"s":"RGBP","v":0.8,"d":0.44},{"s":"RGBP","v":1.1,"d":0.28},{"s":"RGBP","v":1.5,"d":0.17},{"s":"RGBP","v":2,"d":0.11},{"s":"RGBP","v":2.5,"d":0.075},{"s":"RGBP","v":3,"d":0.055},{"s":"RGBP","v":4,"d":0.035},{"s":"RGBP","v":5,"d":0.025},{"s":"RGBP","v":8,"d":0.015},{"s":"RGBP","v":12,"d":0.01},
{"s":"RJPY","v":-18.2,"d":0.01},{"s":"RJPY","v":-12,"d":0.012},{"s":"RJPY","v":-8,"d":0.015},{"s":"RJPY","v":-5,"d":0.025},{"s":"RJPY","v":-4,"d":0.035},{"s":"RJPY","v":-3,"d":0.06},{"s":"RJPY","v":-2.5,"d":0.09},{"s":"RJPY","v":-2,"d":0.14},{"s":"RJPY","v":-1.5,"d":0.24},{"s":"RJPY","v":-1,"d":0.42},{"s":"RJPY","v":-0.7,"d":0.6},{"s":"RJPY","v":-0.4,"d":0.82},{"s":"RJPY","v":-0.1,"d":1},{"s":"RJPY","v":0.2,"d":0.88},{"s":"RJPY","v":0.5,"d":0.66},{"s":"RJPY","v":0.8,"d":0.44},{"s":"RJPY","v":1.1,"d":0.28},{"s":"RJPY","v":1.5,"d":0.17},{"s":"RJPY","v":2,"d":0.11},{"s":"RJPY","v":2.5,"d":0.075},{"s":"RJPY","v":3,"d":0.055},{"s":"RJPY","v":4,"d":0.035},{"s":"RJPY","v":5,"d":0.025},{"s":"RJPY","v":8,"d":0.015},{"s":"RJPY","v":11.5,"d":0.01},
{"s":"RUSD","v":-13,"d":0.01},{"s":"RUSD","v":-8,"d":0.015},{"s":"RUSD","v":-5,"d":0.025},{"s":"RUSD","v":-4,"d":0.035},{"s":"RUSD","v":-3,"d":0.06},{"s":"RUSD","v":-2.5,"d":0.09},{"s":"RUSD","v":-2,"d":0.14},{"s":"RUSD","v":-1.5,"d":0.24},{"s":"RUSD","v":-1,"d":0.42},{"s":"RUSD","v":-0.7,"d":0.6},{"s":"RUSD","v":-0.4,"d":0.82},{"s":"RUSD","v":-0.1,"d":1},{"s":"RUSD","v":0.2,"d":0.88},{"s":"RUSD","v":0.5,"d":0.66},{"s":"RUSD","v":0.8,"d":0.44},{"s":"RUSD","v":1.1,"d":0.28},{"s":"RUSD","v":1.5,"d":0.17},{"s":"RUSD","v":2,"d":0.11},{"s":"RUSD","v":2.5,"d":0.075},{"s":"RUSD","v":3,"d":0.055},{"s":"RUSD","v":4,"d":0.035},{"s":"RUSD","v":5,"d":0.025},{"s":"RUSD","v":8,"d":0.015},{"s":"RUSD","v":11.8,"d":0.01}
]
},
"spacing": 0,
"vconcat": [
  {"width": 1062, "height": 3, "data": {"values": []}, "mark": "point", "encoding": {}, "view": {"fill": "#000", "stroke": null}},
  {"spacing": 0, "hconcat": [
    {"width": 8, "height": 1, "data": {"values": []}, "mark": "point", "encoding": {}},
    {"width": 4, "height": 897, "data": {"values": []}, "mark": "point", "encoding": {}, "view": {"fill": "#000", "stroke": null}},
    {"width": 40, "height": 1, "data": {"values": []}, "mark": "point", "encoding": {}},
    {"spacing": 0, "vconcat": [
      {"width": 10, "height": 28, "data": {"values": []}, "mark": "point", "encoding": {}},
      {
        "title": {"text": "Döviz Kuru Getiri Serileri (Yüzde)", "fontSize": 16, "fontWeight": "bold", "anchor": "middle", "offset": 18, "dx": 11},
        "columns": 3,
        "spacing": {"row": 32.5, "column": 17.5},
        "concat": [
          {"spacing": 3, "hconcat": [
            {"width": 22, "height": 188, "data": {"name": "dens"}, "transform": [{"filter": "datum.s == 'RAUD'"}],
             "mark": {"type": "area", "orient": "horizontal"},
             "encoding": {"y": {"field": "v", "type": "quantitative", "scale": {"domain": [-15, 15], "nice": false, "zero": false}, "axis": {"values": [-15,-10,-5,0,5,10,15], "labelExpr": "'' + datum.value", "tickSize": 4, "labelPadding": 2}},
                          "x": {"field": "d", "type": "quantitative", "stack": null, "scale": {"domain": [0, 1.03]}, "axis": null}}},
            {"width": 252, "height": 188, "title": {"text": "RAUD", "fontSize": 13, "fontWeight": "normal", "offset": 17}, "data": {"name": "ts"}, "transform": [{"filter": "datum.s == 'RAUD'"}, {"fold": ["lo", "hi"], "as": ["k", "v"]}],
             "mark": {"type": "line"},
             "encoding": {"x": {"field": "t", "type": "quantitative", "scale": {"domain": [286, 2509], "nice": false, "zero": false}, "axis": {"values": [500,1000,1500,2000,2500], "labelExpr": "'' + datum.value", "domain": false, "tickSize": 4, "labelPadding": 1, "labelFlush": false}},
                          "y": {"field": "v", "type": "quantitative", "scale": {"domain": [-15, 15], "nice": false}, "axis": null}},
             "view": {"stroke": "#000", "strokeWidth": 1.2}}
          ]},
          {"spacing": 3, "hconcat": [
            {"width": 22, "height": 188, "data": {"name": "dens"}, "transform": [{"filter": "datum.s == 'RCAD'"}],
             "mark": {"type": "area", "orient": "horizontal"},
             "encoding": {"y": {"field": "v", "type": "quantitative", "scale": {"domain": [-15, 15], "nice": false, "zero": false}, "axis": {"values": [-15,-10,-5,0,5,10,15], "labelExpr": "'' + datum.value", "tickSize": 4, "labelPadding": 2}},
                          "x": {"field": "d", "type": "quantitative", "stack": null, "scale": {"domain": [0, 1.03]}, "axis": null}}},
            {"width": 252, "height": 188, "title": {"text": "RCAD", "fontSize": 13, "fontWeight": "normal", "offset": 17}, "data": {"name": "ts"}, "transform": [{"filter": "datum.s == 'RCAD'"}, {"fold": ["lo", "hi"], "as": ["k", "v"]}],
             "mark": {"type": "line"},
             "encoding": {"x": {"field": "t", "type": "quantitative", "scale": {"domain": [286, 2509], "nice": false, "zero": false}, "axis": {"values": [500,1000,1500,2000,2500], "labelExpr": "'' + datum.value", "domain": false, "tickSize": 4, "labelPadding": 1, "labelFlush": false}},
                          "y": {"field": "v", "type": "quantitative", "scale": {"domain": [-15, 15], "nice": false}, "axis": null}},
             "view": {"stroke": "#000", "strokeWidth": 1.2}}
          ]},
          {"spacing": 3, "hconcat": [
            {"width": 22, "height": 188, "data": {"name": "dens"}, "transform": [{"filter": "datum.s == 'RCHF'"}],
             "mark": {"type": "area", "orient": "horizontal"},
             "encoding": {"y": {"field": "v", "type": "quantitative", "scale": {"domain": [-15, 15], "nice": false, "zero": false}, "axis": {"values": [-15,-10,-5,0,5,10,15], "labelExpr": "'' + datum.value", "tickSize": 4, "labelPadding": 2}},
                          "x": {"field": "d", "type": "quantitative", "stack": null, "scale": {"domain": [0, 1.03]}, "axis": null}}},
            {"width": 252, "height": 188, "title": {"text": "RCHF", "fontSize": 13, "fontWeight": "normal", "offset": 17}, "data": {"name": "ts"}, "transform": [{"filter": "datum.s == 'RCHF'"}, {"fold": ["lo", "hi"], "as": ["k", "v"]}],
             "mark": {"type": "line"},
             "encoding": {"x": {"field": "t", "type": "quantitative", "scale": {"domain": [286, 2509], "nice": false, "zero": false}, "axis": {"values": [500,1000,1500,2000,2500], "labelExpr": "'' + datum.value", "domain": false, "tickSize": 4, "labelPadding": 1, "labelFlush": false}},
                          "y": {"field": "v", "type": "quantitative", "scale": {"domain": [-15, 15], "nice": false}, "axis": null}},
             "view": {"stroke": "#000", "strokeWidth": 1.2}}
          ]},
          {"spacing": 3, "hconcat": [
            {"width": 22, "height": 188, "data": {"name": "dens"}, "transform": [{"filter": "datum.s == 'REUR'"}],
             "mark": {"type": "area", "orient": "horizontal"},
             "encoding": {"y": {"field": "v", "type": "quantitative", "scale": {"domain": [-15, 15], "nice": false, "zero": false}, "axis": {"values": [-15,-10,-5,0,5,10,15], "labelExpr": "'' + datum.value", "tickSize": 4, "labelPadding": 2}},
                          "x": {"field": "d", "type": "quantitative", "stack": null, "scale": {"domain": [0, 1.03]}, "axis": null}}},
            {"width": 252, "height": 188, "title": {"text": "REUR", "fontSize": 13, "fontWeight": "normal", "offset": 17}, "data": {"name": "ts"}, "transform": [{"filter": "datum.s == 'REUR'"}, {"fold": ["lo", "hi"], "as": ["k", "v"]}],
             "mark": {"type": "line"},
             "encoding": {"x": {"field": "t", "type": "quantitative", "scale": {"domain": [286, 2509], "nice": false, "zero": false}, "axis": {"values": [500,1000,1500,2000,2500], "labelExpr": "'' + datum.value", "domain": false, "tickSize": 4, "labelPadding": 1, "labelFlush": false}},
                          "y": {"field": "v", "type": "quantitative", "scale": {"domain": [-15, 15], "nice": false}, "axis": null}},
             "view": {"stroke": "#000", "strokeWidth": 1.2}}
          ]},
          {"spacing": 3, "hconcat": [
            {"width": 22, "height": 188, "data": {"name": "dens"}, "transform": [{"filter": "datum.s == 'RGBP'"}],
             "mark": {"type": "area", "orient": "horizontal"},
             "encoding": {"y": {"field": "v", "type": "quantitative", "scale": {"domain": [-15, 15], "nice": false, "zero": false}, "axis": {"values": [-15,-10,-5,0,5,10,15], "labelExpr": "'' + datum.value", "tickSize": 4, "labelPadding": 2}},
                          "x": {"field": "d", "type": "quantitative", "stack": null, "scale": {"domain": [0, 1.03]}, "axis": null}}},
            {"width": 252, "height": 188, "title": {"text": "RGBP", "fontSize": 13, "fontWeight": "normal", "offset": 17}, "data": {"name": "ts"}, "transform": [{"filter": "datum.s == 'RGBP'"}, {"fold": ["lo", "hi"], "as": ["k", "v"]}],
             "mark": {"type": "line"},
             "encoding": {"x": {"field": "t", "type": "quantitative", "scale": {"domain": [286, 2509], "nice": false, "zero": false}, "axis": {"values": [500,1000,1500,2000,2500], "labelExpr": "'' + datum.value", "domain": false, "tickSize": 4, "labelPadding": 1, "labelFlush": false}},
                          "y": {"field": "v", "type": "quantitative", "scale": {"domain": [-15, 15], "nice": false}, "axis": null}},
             "view": {"stroke": "#000", "strokeWidth": 1.2}}
          ]},
          {"spacing": 3, "hconcat": [
            {"width": 22, "height": 188, "data": {"name": "dens"}, "transform": [{"filter": "datum.s == 'RJPY'"}],
             "mark": {"type": "area", "orient": "horizontal"},
             "encoding": {"y": {"field": "v", "type": "quantitative", "scale": {"domain": [-20, 12], "nice": false, "zero": false}, "axis": {"values": [-20,-16,-12,-8,-4,0,4,8,12], "labelExpr": "'' + datum.value", "tickSize": 4, "labelPadding": 2}},
                          "x": {"field": "d", "type": "quantitative", "stack": null, "scale": {"domain": [0, 1.03]}, "axis": null}}},
            {"width": 252, "height": 188, "title": {"text": "RJPY", "fontSize": 13, "fontWeight": "normal", "offset": 17}, "data": {"name": "ts"}, "transform": [{"filter": "datum.s == 'RJPY'"}, {"fold": ["lo", "hi"], "as": ["k", "v"]}],
             "mark": {"type": "line"},
             "encoding": {"x": {"field": "t", "type": "quantitative", "scale": {"domain": [286, 2509], "nice": false, "zero": false}, "axis": {"values": [500,1000,1500,2000,2500], "labelExpr": "'' + datum.value", "domain": false, "tickSize": 4, "labelPadding": 1, "labelFlush": false}},
                          "y": {"field": "v", "type": "quantitative", "scale": {"domain": [-20, 12], "nice": false}, "axis": null}},
             "view": {"stroke": "#000", "strokeWidth": 1.2}}
          ]},
          {"spacing": 3, "hconcat": [
            {"width": 22, "height": 188, "data": {"name": "dens"}, "transform": [{"filter": "datum.s == 'RUSD'"}],
             "mark": {"type": "area", "orient": "horizontal"},
             "encoding": {"y": {"field": "v", "type": "quantitative", "scale": {"domain": [-15, 15], "nice": false, "zero": false}, "axis": {"values": [-15,-10,-5,0,5,10,15], "labelExpr": "'' + datum.value", "tickSize": 4, "labelPadding": 2}},
                          "x": {"field": "d", "type": "quantitative", "stack": null, "scale": {"domain": [0, 1.03]}, "axis": null}}},
            {"width": 252, "height": 188, "title": {"text": "RUSD", "fontSize": 13, "fontWeight": "normal", "offset": 17}, "data": {"name": "ts"}, "transform": [{"filter": "datum.s == 'RUSD'"}, {"fold": ["lo", "hi"], "as": ["k", "v"]}],
             "mark": {"type": "line"},
             "encoding": {"x": {"field": "t", "type": "quantitative", "scale": {"domain": [286, 2509], "nice": false, "zero": false}, "axis": {"values": [500,1000,1500,2000,2500], "labelExpr": "'' + datum.value", "domain": false, "tickSize": 4, "labelPadding": 1, "labelFlush": false}},
                          "y": {"field": "v", "type": "quantitative", "scale": {"domain": [-15, 15], "nice": false}, "axis": null}},
             "view": {"stroke": "#000", "strokeWidth": 1.2}}
          ]}
        ]
      }
    ]}
  ]},
  {"width": 1062, "height": 4, "data": {"values": []}, "mark": "point", "encoding": {}, "view": {"fill": "#000", "stroke": null}}
]
}
